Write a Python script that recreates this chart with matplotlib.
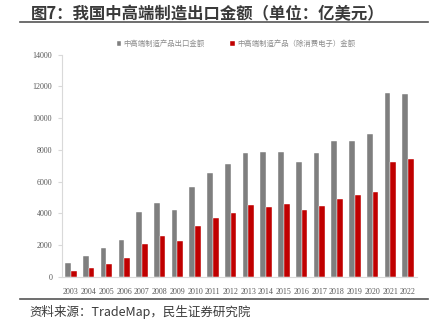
import matplotlib.pyplot as plt
import numpy as np
from matplotlib.lines import Line2D

plt.rcParams['font.family'] = ['Noto Sans CJK SC', 'DejaVu Sans']

years = [str(y) for y in range(2003, 2023)]
# 中高端制造产品出口金额
total = [870, 1320, 1820, 2310, 4070, 4670, 4195, 5660, 6520, 7130,
         7780, 7840, 7860, 7230, 7800, 8530, 8530, 9010, 11590, 11490]
# 中高端制造产品（除消费电子）金额
ex_elec = [360, 585, 840, 1180, 2095, 2580, 2245, 3190, 3730, 4025,
           4530, 4380, 4570, 4195, 4445, 4885, 5135, 5365, 7230, 7420]
series_names = ['中高端制造产品出口金额', '中高端制造产品（除消费电子）金额']
yticks = [0, 2000, 4000, 6000, 8000, 10000, 12000, 14000]

fig = plt.figure(figsize=(4.36, 3.27), dpi=100)

# title + rule
fig.text(0.07, 0.958, '图7：我国中高端制造出口金额（单位：亿美元）',
         fontsize=11.8, fontweight='heavy', color='#3a3a3a', va='center')
fig.add_artist(Line2D([0.046, 0.982], [0.932, 0.932], color='#555555', lw=1.2))

ax = fig.add_axes([0.142, 0.153, 0.814, 0.68])
x = np.arange(len(years))
w = 0.32
ax.bar(x - 0.15, total, w, color='#7f7f7f', edgecolor='white', linewidth=0.3,
       label=series_names[0])
ax.bar(x + 0.17, ex_elec, w, color='#c00000', edgecolor='white', linewidth=0.3,
       label=series_names[1])

ax.set_xlim(-0.5, len(years) - 0.5)
ax.set_ylim(0, 14000)
ax.set_yticks(yticks)
ax.set_xticks(x)
ax.set_xticklabels(years)
for lab in ax.get_xticklabels() + ax.get_yticklabels():
    lab.set_fontfamily('Liberation Serif')
    lab.set_fontsize(5.8)
    lab.set_color('#595959')
ax.tick_params(axis='x', length=0, pad=8)
ax.tick_params(axis='y', length=3, color='#d9d9d9', pad=4)
for s in ['top', 'right']:
    ax.spines[s].set_visible(False)
ax.spines['left'].set_color('#d9d9d9')
ax.spines['bottom'].set_color('#d9d9d9')

leg = ax.legend(loc='lower center', bbox_to_anchor=(0.49, 1.0), ncol=2, frameon=False,
                fontsize=5.3, handlelength=0.6, handleheight=0.6, handletextpad=0.3,
                columnspacing=3.5)
for t in leg.get_texts():
    t.set_color('#8c8c8c')

# footer
fig.add_artist(Line2D([0.046, 0.982], [0.085, 0.085], color='#555555', lw=1.2))
fig.text(0.068, 0.045, '资料来源：TradeMap，民生证券研究院', fontsize=9,
         color='#3a3a3a', va='center')

fig.savefig('out.png', dpi=100)
